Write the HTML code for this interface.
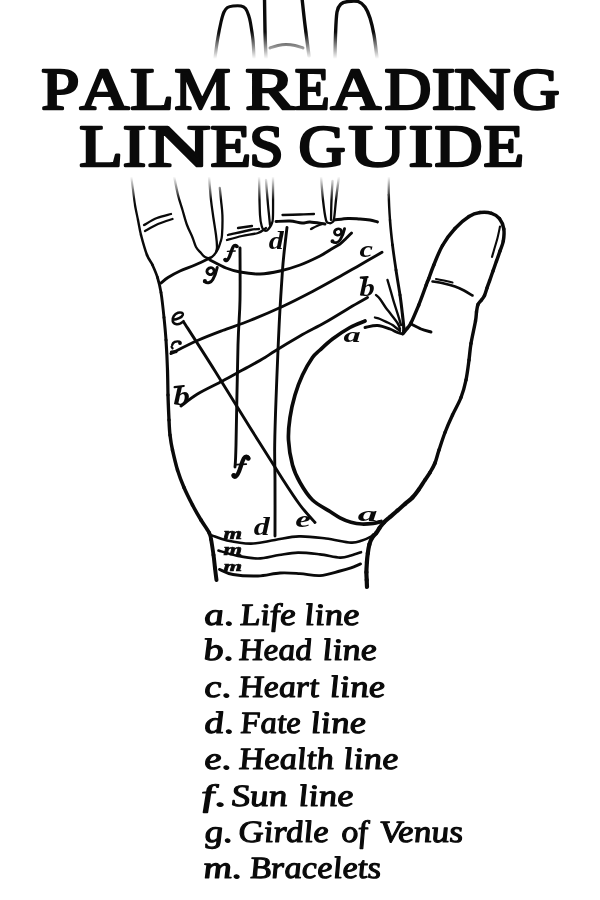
<!DOCTYPE html>
<html><head><meta charset="utf-8"><title>Palm Reading Lines Guide</title>
<style>
html,body{margin:0;padding:0;background:#fff;}
body{width:600px;height:900px;overflow:hidden;font-family:"Liberation Serif",serif;}
svg{display:block;filter:grayscale(1);}
</style></head>
<body>
<svg width="600" height="900" viewBox="0 0 600 900">
<defs>
<linearGradient id="fade" x1="0" y1="0" x2="0" y2="1" gradientUnits="objectBoundingBox">
<stop offset="0" stop-color="#fff" stop-opacity="0"/>
<stop offset="0.16" stop-color="#fff" stop-opacity="1"/>
<stop offset="0.86" stop-color="#fff" stop-opacity="1"/>
<stop offset="1" stop-color="#fff" stop-opacity="0"/>
</linearGradient>
</defs>
<rect width="600" height="900" fill="#fff"/>
<g fill="none" stroke="#0a0a0a" stroke-linecap="round" stroke-linejoin="round">
<path d="M215.0,58.0 C215.4,55.0 216.5,46.0 217.5,40.0 C218.5,34.0 219.9,26.7 221.0,22.0 C222.1,17.3 222.9,14.4 224.0,12.0 C225.1,9.6 226.0,8.5 227.5,7.5 C229.0,6.5 230.8,6.2 233.0,6.0 C235.2,5.8 238.9,5.6 241.0,6.0 C243.1,6.4 244.2,7.0 245.5,8.5 C246.8,10.0 247.7,12.6 248.5,15.0 C249.3,17.4 249.8,18.8 250.5,23.0 C251.2,27.2 252.4,34.2 253.0,40.0 C253.6,45.8 253.8,55.0 254.0,58.0" stroke-width="3.1999999999999997"/>
<path d="M264.5,-2.0 C264.6,3.3 264.8,20.0 265.0,30.0 C265.2,40.0 265.8,53.3 266.0,58.0" stroke-width="3.4"/>
<path d="M302.0,-2.0 C302.5,2.5 303.8,15.3 305.0,25.0 C306.2,34.7 308.3,50.8 309.0,56.0" stroke-width="3.4"/>
<path d="M270.0,48.0 C271.3,47.6 275.3,46.1 278.0,45.5 C280.7,44.9 283.2,44.5 286.0,44.5 C288.8,44.5 292.2,44.9 295.0,45.5 C297.8,46.1 301.7,47.6 303.0,48.0" stroke-width="2.9"/>
<path d="M335.0,58.0 C335.1,54.2 335.2,42.7 335.5,35.0 C335.8,27.3 336.1,17.2 337.0,12.0 C337.9,6.8 339.2,5.8 341.0,4.0 C342.8,2.2 345.2,1.9 348.0,1.5 C350.8,1.1 355.2,0.6 358.0,1.5 C360.8,2.4 363.0,4.2 365.0,7.0 C367.0,9.8 368.5,13.3 370.0,18.0 C371.5,22.7 372.8,28.3 374.0,35.0 C375.2,41.7 376.5,54.2 377.0,58.0" stroke-width="3.4"/>
<path d="M174.0,176.0 C174.7,179.2 176.6,189.3 178.0,195.0 C179.4,200.7 181.0,205.0 182.5,210.0 C184.0,215.0 185.3,220.4 187.0,225.0 C188.7,229.6 191.0,233.8 192.5,237.5 C194.0,241.2 194.6,244.4 196.0,247.0 C197.4,249.6 199.5,251.3 201.0,253.0 C202.5,254.7 203.5,256.2 205.0,257.0 C206.5,257.8 208.5,258.3 210.0,258.0 C211.5,257.7 212.7,256.5 214.0,255.0 C215.3,253.5 216.9,251.2 218.0,249.0 C219.1,246.8 219.8,244.3 220.5,242.0 C221.2,239.7 221.7,239.5 222.0,235.0 C222.3,230.5 222.6,220.8 222.4,215.0 C222.2,209.2 221.4,204.5 221.0,200.0 C220.6,195.5 220.0,190.0 219.8,188.0" stroke-width="2.3"/>
<path d="M209.0,176.0 C209.3,180.0 210.3,193.5 211.0,200.0 C211.7,206.5 212.2,209.2 213.0,215.0 C213.8,220.8 215.3,229.7 216.0,235.0 C216.7,240.3 217.0,244.2 217.0,247.0 C217.0,249.8 216.2,251.2 216.0,252.0" stroke-width="2.3"/>
<path d="M144.0,225.0 C146.2,223.8 152.5,219.8 157.0,218.0 C161.5,216.2 168.7,214.7 171.0,214.0" stroke-width="2.3"/>
<path d="M145.0,231.0 C147.2,229.8 153.4,226.0 158.0,224.0 C162.6,222.0 170.1,219.8 172.5,219.0" stroke-width="2.3"/>
<path d="M210.0,258.0 C207.5,259.2 200.0,262.8 195.0,265.0 C190.0,267.2 184.5,268.9 180.0,271.0 C175.5,273.1 171.2,275.5 168.0,277.5 C164.8,279.5 162.2,282.1 161.0,283.0" stroke-width="2.9"/>
<path d="M210.0,260.0 C212.7,261.3 221.0,266.0 226.0,268.0 C231.0,270.0 234.3,271.0 240.0,272.0 C245.7,273.0 253.3,274.2 260.0,274.0 C266.7,273.8 273.3,272.5 280.0,271.0 C286.7,269.5 293.3,267.5 300.0,265.0 C306.7,262.5 315.0,258.5 320.0,256.0 C325.0,253.5 326.7,252.0 330.0,250.0 C333.3,248.0 337.3,245.9 340.0,244.0 C342.7,242.1 344.1,240.3 346.0,238.5 C347.9,236.7 350.6,233.9 351.5,233.0" stroke-width="2.9"/>
<path d="M238.0,228.0 L252.0,226.0" stroke-width="2.3"/>
<path d="M228.0,235.0 C231.7,234.2 244.8,231.0 250.0,230.0 C255.2,229.0 257.5,229.2 259.0,229.0" stroke-width="2.3"/>
<path d="M227.0,240.0 C229.5,239.3 236.8,237.2 242.0,236.0 C247.2,234.8 254.0,234.3 258.0,233.0 C262.0,231.7 264.7,228.8 266.0,228.0" stroke-width="2.3"/>
<path d="M259.0,176.0 C259.2,182.5 259.5,206.5 260.0,215.0 C260.5,223.5 261.3,224.5 262.0,227.0 C262.7,229.5 263.2,229.4 264.0,230.0 C264.8,230.6 266.0,231.0 267.0,230.5 C268.0,230.0 269.2,228.2 270.0,227.0 C270.8,225.8 271.5,225.0 272.0,223.0 C272.5,221.0 272.8,222.8 273.0,215.0 C273.2,207.2 273.0,182.5 273.0,176.0" stroke-width="2.3"/>
<path d="M266.0,180.0 C266.3,184.2 267.5,199.2 268.0,205.0 C268.5,210.8 268.7,211.7 269.0,215.0 C269.3,218.3 269.8,223.3 270.0,225.0" stroke-width="2.3"/>
<path d="M276.0,221.5 C278.3,221.4 285.7,220.8 290.0,221.0 C294.3,221.2 298.7,222.8 302.0,223.0 C305.3,223.2 306.2,221.8 310.0,222.0 C313.8,222.2 322.5,223.7 325.0,224.0" stroke-width="2.9"/>
<path d="M282.5,215.0 C285.4,214.9 294.8,214.7 300.0,214.5 C305.2,214.3 311.7,214.1 314.0,214.0" stroke-width="2.3"/>
<path d="M311.0,229.0 C312.0,228.5 315.1,226.8 317.0,226.0 C318.9,225.2 321.6,224.3 322.5,224.0" stroke-width="2.3"/>
<path d="M321.0,176.0 C321.3,180.0 322.2,192.7 323.0,200.0 C323.8,207.3 325.0,216.2 326.0,220.0 C327.0,223.8 328.0,222.6 329.0,223.0 C330.0,223.4 331.2,223.2 332.0,222.5 C332.8,221.8 333.3,222.8 334.0,219.0 C334.7,215.2 335.2,207.2 336.0,200.0 C336.8,192.8 338.5,180.0 339.0,176.0" stroke-width="2.3"/>
<path d="M332.5,181.0 C332.3,184.2 331.8,193.5 331.5,200.0 C331.2,206.5 331.1,216.7 331.0,220.0" stroke-width="2.3"/>
<path d="M334.0,220.0 C336.3,219.8 343.7,218.7 348.0,218.5 C352.3,218.3 356.3,218.8 360.0,219.0 C363.7,219.2 367.1,219.5 370.0,220.0 C372.9,220.5 376.2,221.7 377.5,222.0" stroke-width="2.9"/>
<path d="M500.0,226.5 C499.6,228.4 498.5,234.1 497.5,238.0 C496.5,241.9 494.9,246.8 494.0,250.0 C493.1,253.2 492.3,255.8 492.0,257.0" stroke-width="2.0999999999999996"/>
<path d="M432.5,281.5 C434.4,281.8 440.2,282.7 444.0,283.5 C447.8,284.3 451.7,285.3 455.0,286.5 C458.3,287.7 461.1,289.0 464.0,290.5 C466.9,292.0 471.1,294.7 472.5,295.5" stroke-width="2.6"/>
<path d="M436.0,279.0 C437.3,279.2 441.2,279.9 444.0,280.5 C446.8,281.1 451.1,282.2 452.5,282.5" stroke-width="2.0999999999999996"/>
<path d="M411.0,324.0 C412.7,324.8 417.7,327.7 421.0,329.0 C424.3,330.3 429.3,331.5 431.0,332.0" stroke-width="2.9"/>
<path d="M387.5,280.0 C388.1,282.0 389.9,288.2 391.0,292.0 C392.1,295.8 392.8,298.7 394.0,302.5 C395.2,306.3 396.8,311.2 398.0,315.0 C399.2,318.8 400.5,323.3 401.0,325.0" stroke-width="2.4"/>
<path d="M376.0,295.0 C376.7,295.7 378.3,296.8 380.0,299.0 C381.7,301.2 384.3,305.7 386.0,308.0 C387.7,310.3 388.1,310.5 390.0,313.0 C391.9,315.5 395.8,320.3 397.5,323.0 C399.2,325.7 399.6,328.0 400.0,329.0" stroke-width="2.4"/>
<path d="M375.0,317.5 C375.8,317.8 377.9,318.2 380.0,319.0 C382.1,319.8 385.4,321.5 387.5,322.5 C389.6,323.5 390.4,323.6 392.5,325.0 C394.6,326.4 398.8,330.0 400.0,331.0" stroke-width="2.4"/>
<path d="M365.0,327.5 C367.1,327.2 373.3,325.2 377.5,325.5 C381.7,325.8 386.7,327.8 390.0,329.0 C393.3,330.2 395.4,331.7 397.5,332.5 C399.6,333.3 401.7,333.8 402.5,334.0" stroke-width="2.9"/>
<path d="M382.0,252.3 C378.3,254.4 367.4,260.8 360.0,265.0 C352.6,269.2 345.4,273.4 337.5,277.8 C329.6,282.2 321.7,286.7 312.5,291.5 C303.3,296.3 292.9,301.7 282.5,306.5 C272.1,311.3 260.0,316.5 250.0,320.5 C240.0,324.5 231.2,327.2 222.5,330.5 C213.8,333.8 206.1,336.7 197.5,340.5 C188.9,344.3 175.4,351.3 171.0,353.5" stroke-width="2.9"/>
<path d="M367.5,297.5 C364.6,299.2 357.1,303.3 350.0,307.5 C342.9,311.7 333.3,317.8 325.0,322.5 C316.7,327.2 308.3,331.2 300.0,336.0 C291.7,340.8 280.8,347.4 275.0,351.0 C269.2,354.6 269.2,355.0 265.0,357.5 C260.8,360.0 253.8,363.9 250.0,366.0 C246.2,368.1 247.1,367.5 242.5,370.0 C237.9,372.5 230.0,377.0 222.5,381.0 C215.0,385.0 204.4,389.8 197.5,394.0 C190.6,398.2 183.8,404.0 181.0,406.0" stroke-width="2.9"/>
<path d="M365.0,321.0 C362.5,322.1 355.4,324.5 350.0,327.5 C344.6,330.5 337.5,335.2 332.5,339.0 C327.5,342.8 323.3,346.9 320.0,350.0 C316.7,353.1 315.4,353.3 312.5,357.5 C309.6,361.7 305.4,368.8 302.5,375.0 C299.6,381.2 297.1,387.9 295.0,395.0 C292.9,402.1 291.1,410.0 290.0,417.5 C288.9,425.0 288.1,432.1 288.5,440.0 C288.9,447.9 290.6,457.9 292.5,465.0 C294.4,472.1 296.7,476.7 300.0,482.5 C303.3,488.3 307.5,495.2 312.5,500.0 C317.5,504.8 325.4,508.5 330.0,511.5 C334.6,514.5 336.5,516.0 340.0,517.8 C343.5,519.6 347.3,521.2 351.0,522.2 C354.7,523.2 358.3,523.8 362.0,524.0 C365.7,524.2 370.1,523.7 373.3,523.3 C376.5,522.9 379.7,521.8 381.0,521.5" stroke-width="3.6999999999999997"/>
<path d="M287.0,227.4 C286.6,231.2 285.1,243.4 284.3,250.5 C283.6,257.6 283.2,260.2 282.5,270.0 C281.8,279.8 280.8,295.7 280.0,309.0 C279.2,322.3 278.7,334.8 278.0,350.0 C277.3,365.2 276.6,384.2 276.0,400.0 C275.4,415.8 274.9,431.7 274.7,445.0 C274.5,458.3 274.9,464.8 275.0,480.0 C275.1,495.2 275.0,526.7 275.0,536.0" stroke-width="2.9"/>
<path d="M240.0,248.0 C240.0,256.7 240.3,283.8 240.0,300.0 C239.7,316.2 238.7,320.8 238.0,345.0 C237.3,369.2 236.5,424.7 236.0,445.0 C235.5,465.3 235.2,463.3 235.0,467.0" stroke-width="2.9"/>
<path d="M184.0,322.5 C189.2,330.6 204.0,353.5 215.0,371.0 C226.0,388.5 238.8,409.5 250.0,427.5 C261.2,445.5 274.2,466.1 282.5,479.0 C290.8,491.9 294.6,497.8 300.0,505.0 C305.4,512.2 312.5,519.6 315.0,522.5" stroke-width="2.9"/>
<path d="M212.0,535.5 C214.5,536.3 220.5,539.1 227.0,540.5 C233.5,541.9 243.0,543.7 251.0,543.6 C259.0,543.5 267.0,541.2 275.0,540.0 C283.0,538.8 290.5,536.6 299.0,536.4 C307.5,536.1 317.3,537.5 326.0,538.5 C334.7,539.5 345.0,542.3 351.0,542.6 C357.0,542.9 358.8,541.4 362.0,540.5 C365.2,539.6 368.1,538.2 370.0,537.2 C371.9,536.2 372.8,534.9 373.3,534.4" stroke-width="2.6"/>
<path d="M218.5,550.5 C221.4,551.3 229.4,554.2 236.0,555.5 C242.6,556.8 250.8,558.6 258.0,558.5 C265.2,558.4 272.3,556.0 279.0,555.0 C285.7,554.0 291.2,552.7 298.0,552.6 C304.8,552.5 313.0,553.6 320.0,554.4 C327.0,555.2 334.8,557.4 340.0,557.6 C345.2,557.8 347.5,556.4 351.0,555.5 C354.5,554.6 359.3,552.8 361.0,552.2" stroke-width="2.6"/>
<path d="M219.5,569.4 C221.8,570.2 226.6,573.4 233.0,574.5 C239.4,575.6 250.2,576.2 258.0,576.0 C265.8,575.8 273.0,573.4 280.0,573.0 C287.0,572.6 293.3,573.2 300.0,573.6 C306.7,574.0 313.3,576.0 320.0,575.6 C326.7,575.2 334.8,572.3 340.0,571.0 C345.2,569.7 347.6,569.0 351.0,567.8 C354.4,566.6 358.9,564.5 360.5,563.9" stroke-width="2.9"/>
<path d="M131.0,174.0 C131.3,176.7 132.3,184.8 133.0,190.0" stroke-width="2.06"/>
<path d="M133.0,190.0 C133.7,195.2 134.2,200.0 135.0,205.0" stroke-width="2.16"/>
<path d="M135.0,205.0 C135.8,210.0 137.0,215.0 138.0,220.0" stroke-width="2.27"/>
<path d="M138.0,220.0 C139.0,225.0 139.5,229.2 141.0,235.0" stroke-width="2.37"/>
<path d="M141.0,235.0 C142.5,240.8 145.1,250.0 147.0,255.0" stroke-width="2.50"/>
<path d="M147.0,255.0 C148.9,260.0 150.8,261.2 152.5,265.0" stroke-width="2.60"/>
<path d="M152.5,265.0 C154.2,268.8 156.1,272.9 157.5,277.5" stroke-width="2.68"/>
<path d="M157.5,277.5 C158.9,282.1 159.9,285.8 161.0,292.5" stroke-width="2.77"/>
<path d="M161.0,292.5 C162.1,299.2 163.2,309.6 164.0,317.5" stroke-width="2.90"/>
<path d="M164.0,317.5 C164.8,325.4 165.4,331.2 166.0,340.0" stroke-width="3.04"/>
<path d="M166.0,340.0 C166.6,348.8 167.2,360.8 167.5,370.0" stroke-width="3.14"/>
<path d="M167.5,370.0 C167.8,379.2 167.8,386.7 168.0,395.0" stroke-width="3.25"/>
<path d="M168.0,395.0 C168.2,403.3 168.7,413.3 169.0,420.0" stroke-width="3.35"/>
<path d="M169.0,420.0 C169.3,426.7 169.4,430.0 170.0,435.0" stroke-width="3.42"/>
<path d="M170.0,435.0 C170.6,440.0 171.2,444.2 172.5,450.0" stroke-width="3.44"/>
<path d="M172.5,450.0 C173.8,455.8 175.6,463.8 177.5,470.0" stroke-width="3.48"/>
<path d="M177.5,470.0 C179.4,476.2 181.5,481.7 184.0,487.5" stroke-width="3.52"/>
<path d="M184.0,487.5 C186.5,493.3 189.7,499.6 192.5,505.0" stroke-width="3.55"/>
<path d="M192.5,505.0 C195.3,510.4 198.2,515.4 201.0,520.0" stroke-width="3.58"/>
<path d="M201.0,520.0 C203.8,524.6 207.3,529.3 209.0,532.5" stroke-width="3.66"/>
<path d="M209.0,532.5 C210.7,535.7 210.2,535.2 211.0,539.0" stroke-width="3.76"/>
<path d="M211.0,539.0 C211.8,542.8 212.8,550.2 213.5,555.0" stroke-width="3.87"/>
<path d="M213.5,555.0 C214.2,559.8 214.5,563.8 215.0,568.0" stroke-width="4.00"/>
<path d="M215.0,568.0 C215.5,572.2 216.2,578.0 216.5,580.0" stroke-width="4.00"/>
<path d="M389.0,174.0 C389.0,177.5 388.6,187.3 388.8,195.0" stroke-width="2.27"/>
<path d="M388.8,195.0 C388.9,202.7 389.4,211.7 390.0,220.0" stroke-width="2.43"/>
<path d="M390.0,220.0 C390.6,228.3 391.5,236.7 392.5,245.0" stroke-width="2.61"/>
<path d="M392.5,245.0 C393.5,253.3 394.8,261.7 396.0,270.0" stroke-width="2.78"/>
<path d="M396.0,270.0 C397.2,278.3 398.9,287.5 400.0,295.0" stroke-width="2.93"/>
<path d="M400.0,295.0 C401.1,302.5 401.9,309.6 402.5,315.0" stroke-width="3.06"/>
<path d="M402.5,315.0 C403.1,320.4 403.6,324.6 403.8,327.5" stroke-width="3.15"/>
<path d="M403.8,327.5 C403.9,330.4 403.5,331.7 403.5,332.5" stroke-width="3.20"/>
<path d="M403.0,333.5 C403.8,332.6 406.1,329.8 407.5,328.0" stroke-width="3.45"/>
<path d="M407.5,328.0 C408.9,326.2 409.4,326.3 411.2,322.5" stroke-width="3.45"/>
<path d="M411.2,322.5 C413.1,318.7 416.2,311.2 418.8,305.0" stroke-width="3.45"/>
<path d="M418.8,305.0 C421.2,298.8 424.8,288.9 426.2,285.0" stroke-width="3.46"/>
<path d="M426.2,285.0 C427.7,281.1 427.1,282.6 427.5,281.5" stroke-width="3.47"/>
<path d="M427.5,281.5 C427.9,280.4 427.7,281.2 428.8,278.5" stroke-width="3.47"/>
<path d="M428.8,278.5 C429.8,275.8 431.5,270.5 433.8,265.0" stroke-width="3.47"/>
<path d="M433.8,265.0 C436.0,259.5 439.0,251.6 442.5,245.5" stroke-width="3.48"/>
<path d="M442.5,245.5 C446.0,239.4 450.6,233.3 455.0,228.5" stroke-width="3.49"/>
<path d="M455.0,228.5 C459.4,223.7 464.8,219.2 469.0,216.5" stroke-width="3.49"/>
<path d="M469.0,216.5 C473.2,213.8 476.2,213.1 480.0,212.6" stroke-width="3.49"/>
<path d="M480.0,212.6 C483.8,212.1 488.2,212.3 491.5,213.3" stroke-width="3.49"/>
<path d="M491.5,213.3 C494.8,214.3 497.4,216.0 499.5,218.6" stroke-width="3.49"/>
<path d="M499.5,218.6 C501.6,221.2 503.2,225.3 503.8,229.0" stroke-width="3.49"/>
<path d="M503.8,229.0 C504.4,232.7 503.9,237.3 503.3,241.0" stroke-width="3.49"/>
<path d="M503.3,241.0 C502.7,244.7 501.1,247.7 500.0,251.0" stroke-width="3.48"/>
<path d="M500.0,251.0 C498.9,254.3 497.7,257.7 496.5,261.0" stroke-width="3.48"/>
<path d="M496.5,261.0 C495.3,264.3 494.2,267.7 493.0,271.0" stroke-width="3.47"/>
<path d="M493.0,271.0 C491.8,274.3 490.5,278.2 489.5,281.0" stroke-width="3.47"/>
<path d="M489.5,281.0 C488.5,283.8 487.8,285.6 487.0,288.0" stroke-width="3.47"/>
<path d="M487.0,288.0 C486.2,290.4 485.4,293.5 484.5,295.5" stroke-width="3.46"/>
<path d="M484.5,295.5 C483.6,297.5 482.6,298.5 481.5,300.0" stroke-width="3.46"/>
<path d="M481.5,300.0 C480.4,301.5 478.8,302.5 478.0,304.5" stroke-width="3.46"/>
<path d="M478.0,304.5 C477.2,306.5 476.9,309.2 476.5,312.0" stroke-width="3.46"/>
<path d="M476.5,312.0 C476.1,314.8 476.4,315.8 475.5,321.0" stroke-width="3.45"/>
<path d="M475.5,321.0 C474.6,326.2 472.1,337.0 471.0,343.5" stroke-width="3.45"/>
<path d="M471.0,343.5 C469.9,350.0 469.8,353.9 469.0,360.0" stroke-width="3.44"/>
<path d="M469.0,360.0 C468.2,366.1 467.3,373.8 466.0,380.0" stroke-width="3.43"/>
<path d="M466.0,380.0 C464.7,386.2 463.2,391.7 461.0,397.5" stroke-width="3.42"/>
<path d="M461.0,397.5 C458.8,403.3 455.2,409.2 452.5,415.0" stroke-width="3.42"/>
<path d="M452.5,415.0 C449.8,420.8 447.2,426.7 445.0,432.5" stroke-width="3.41"/>
<path d="M445.0,432.5 C442.8,438.3 440.7,444.9 439.0,450.0" stroke-width="3.40"/>
<path d="M439.0,450.0 C437.3,455.1 436.5,459.2 435.0,463.0" stroke-width="3.50"/>
<path d="M435.0,463.0 C433.5,466.8 431.7,469.7 430.0,472.5" stroke-width="3.68"/>
<path d="M430.0,472.5 C428.3,475.3 426.9,477.2 425.0,480.0" stroke-width="3.82"/>
<path d="M425.0,480.0 C423.1,482.8 420.8,486.6 418.8,489.5" stroke-width="3.96"/>
<path d="M418.8,489.5 C416.7,492.4 414.8,495.1 412.5,497.5" stroke-width="4.10"/>
<path d="M412.5,497.5 C410.2,499.9 407.5,501.8 405.0,504.0" stroke-width="4.20"/>
<path d="M405.0,504.0 C402.5,506.2 400.0,508.3 397.5,510.5" stroke-width="4.20"/>
<path d="M397.5,510.5 C395.0,512.7 392.3,515.0 390.0,517.0" stroke-width="4.20"/>
<path d="M390.0,517.0 C387.7,519.0 385.5,520.7 383.8,522.5" stroke-width="4.20"/>
<path d="M383.8,522.5 C382.0,524.3 380.8,526.2 379.5,528.0" stroke-width="4.20"/>
<path d="M379.5,528.0 C378.2,529.8 377.5,531.4 376.2,533.0" stroke-width="4.20"/>
<path d="M376.2,533.0 C375.0,534.6 373.3,535.9 372.2,537.8" stroke-width="4.20"/>
<path d="M372.2,537.8 C371.1,539.7 370.1,541.8 369.4,544.4" stroke-width="4.20"/>
<path d="M369.4,544.4 C368.7,547.0 368.2,550.3 367.8,553.3" stroke-width="4.20"/>
<path d="M367.8,553.3 C367.4,556.3 367.1,559.1 366.9,562.2" stroke-width="4.20"/>
<path d="M366.9,562.2 C366.7,565.4 366.4,569.2 366.4,572.2" stroke-width="4.20"/>
<path d="M366.4,572.2 C366.4,575.2 366.6,577.5 366.7,580.0" stroke-width="4.20"/>
<path d="M366.7,580.0 C366.8,582.5 366.9,585.8 367.0,587.0" stroke-width="4.20"/>
</g>
<g font-family="Liberation Serif" font-weight="bold" font-style="italic" fill="#0a0a0a">
<text transform="translate(359.56,257.27) scale(1.256,0.996)" font-size="24.0">c</text>
<text transform="translate(268.65,248.76) scale(1.249,1.007)" font-size="24.0">d</text>
<text transform="translate(359.60,295.71) scale(1.276,1.093)" font-size="24.0">b</text>
<text transform="translate(343.60,342.29) scale(1.436,0.866)" font-size="24.0">a</text>
<text transform="translate(173.57,404.70) scale(1.368,1.123)" font-size="24.0">b</text>
<text transform="translate(253.63,534.76) scale(1.332,1.036)" font-size="24.0">d</text>
<text transform="translate(295.18,527.27) scale(1.464,0.996)" font-size="24.0">e</text>
<text transform="translate(357.84,520.78) scale(1.651,0.910)" font-size="24.0">a</text>
<text transform="translate(223.54,539.00) scale(0.996,0.707)" font-size="24.0" stroke="#0a0a0a" stroke-width="0.9">m</text>
<text transform="translate(223.54,555.00) scale(0.996,0.663)" font-size="24.0" stroke="#0a0a0a" stroke-width="0.9">m</text>
<text transform="translate(223.54,571.00) scale(0.996,0.619)" font-size="24.0" stroke="#0a0a0a" stroke-width="0.9">m</text>
</g>
<g transform="translate(202.3,266.3) scale(0.994,0.995)" fill="none" stroke="#0a0a0a" stroke-linecap="round" stroke-linejoin="round"><ellipse cx="8.3" cy="4.9" rx="3.7" ry="3.4" stroke-width="2.9" transform="rotate(-25 8.3 4.9)"/><path d="M15.0,1.2 C14.2,5 12.8,9.5 10.6,13.2 C8.8,16.2 5.5,17.6 2.6,15.6" stroke-width="3"/><circle cx="2.6" cy="14.9" r="1.3" fill="#0a0a0a" stroke-width="1.6"/></g>
<g transform="translate(330,227.5) scale(0.970,0.919)" fill="none" stroke="#0a0a0a" stroke-linecap="round" stroke-linejoin="round"><ellipse cx="8.3" cy="4.9" rx="3.7" ry="3.4" stroke-width="2.9" transform="rotate(-25 8.3 4.9)"/><path d="M15.0,1.2 C14.2,5 12.8,9.5 10.6,13.2 C8.8,16.2 5.5,17.6 2.6,15.6" stroke-width="3"/><circle cx="2.6" cy="14.9" r="1.3" fill="#0a0a0a" stroke-width="1.6"/></g>
<g transform="translate(231,455) scale(1.000,1.000)" fill="none" stroke="#0a0a0a" stroke-linecap="round" stroke-linejoin="round"><path d="M17.4,3.2 C16.6,1.2 14.2,1.0 12.9,3.2 C11.4,5.8 10.4,9.5 9.2,13.2 C7.9,17.4 6.6,20.6 4.6,21.6 C3.6,22.1 2.6,21.6 2.4,20.6" stroke-width="4.2"/><path d="M5.6,9.6 L15.2,9.1" stroke-width="1.9"/><circle cx="17.2" cy="3.4" r="1.5" fill="#0a0a0a" stroke-width="1.6"/><circle cx="2.9" cy="20.3" r="1.5" fill="#0a0a0a" stroke-width="1.6"/></g>
<g transform="translate(223,244) scale(0.800,0.766)" fill="none" stroke="#0a0a0a" stroke-linecap="round" stroke-linejoin="round"><path d="M17.4,3.2 C16.6,1.2 14.2,1.0 12.9,3.2 C11.4,5.8 10.4,9.5 9.2,13.2 C7.9,17.4 6.6,20.6 4.6,21.6 C3.6,22.1 2.6,21.6 2.4,20.6" stroke-width="4.2"/><path d="M5.6,9.6 L15.2,9.1" stroke-width="1.9"/><circle cx="17.2" cy="3.4" r="1.5" fill="#0a0a0a" stroke-width="1.6"/><circle cx="2.9" cy="20.3" r="1.5" fill="#0a0a0a" stroke-width="1.6"/></g>
<g fill="none" stroke="#0a0a0a" stroke-linecap="round" stroke-linejoin="round"><path d="M174.6,387.2 L183.8,386" stroke-width="2.2"/><path d="M360.8,277.6 L367.6,277" stroke-width="2.2"/><path d="M172.2,345 C172.8,342.2 176,340.8 179.6,341.6" stroke-width="2.4"/><circle cx="180" cy="343" r="1.2" fill="#0a0a0a" stroke-width="1.4"/><path d="M171.6,346.8 L172.6,348.4" stroke-width="2.2"/><path d="M171.5,352.2 L176,351.6" stroke-width="3.2"/><path d="M173,319.8 C177,319.5 182,317.5 182.8,314.8 C183.2,312.8 180.5,311.9 178,312.7 C174.5,313.9 172.1,317.5 172.7,321 C173.3,324.4 177.5,324.9 180.5,323.4 C181.8,322.7 182.8,322 183.6,321.2" stroke-width="2.5"/></g>
<rect x="0" y="32" width="600" height="168" fill="url(#fade)"/>
<g font-family="Liberation Serif" fill="#0a0a0a" stroke="#0a0a0a" stroke-width="2.6" stroke-linejoin="round">
<text transform="translate(41.33,109.0) scale(1.1449,1)" font-size="59.87">P</text>
<text transform="translate(79.63,109.0) scale(1.1466,1)" font-size="59.87">A</text>
<text transform="translate(130.24,109.0) scale(1.1968,1)" font-size="59.87">L</text>
<text transform="translate(174.48,109.0) scale(1.0532,1)" font-size="59.87">M</text>
<text transform="translate(245.16,109.0) scale(1.2435,1)" font-size="59.87">R</text>
<text transform="translate(294.65,109.0) scale(0.9541,1)" font-size="59.87">E</text>
<text transform="translate(330.62,109.0) scale(1.1703,1)" font-size="59.87">A</text>
<text transform="translate(384.43,109.0) scale(1.0841,1)" font-size="59.87">D</text>
<text transform="translate(431.76,109.0) scale(1.1743,1)" font-size="59.87">I</text>
<text transform="translate(454.05,109.0) scale(1.3056,1)" font-size="59.87">N</text>
<text transform="translate(512.62,109.0) scale(1.0898,1)" font-size="59.87">G</text>
<text transform="translate(79.24,166.29999999999998) scale(1.2030,1)" font-size="59.56">L</text>
<text transform="translate(122.76,166.29999999999998) scale(1.1804,1)" font-size="59.56">I</text>
<text transform="translate(147.79,166.29999999999998) scale(1.4625,1)" font-size="59.56">N</text>
<text transform="translate(210.38,166.29999999999998) scale(1.1167,1)" font-size="59.56">E</text>
<text transform="translate(249.17,166.29999999999998) scale(1.0374,1)" font-size="59.56">S</text>
<text transform="translate(298.62,166.29999999999998) scale(1.0953,1)" font-size="59.56">G</text>
<text transform="translate(348.62,166.29999999999998) scale(1.3428,1)" font-size="59.56">U</text>
<text transform="translate(408.62,166.29999999999998) scale(1.2445,1)" font-size="59.56">I</text>
<text transform="translate(434.39,166.29999999999998) scale(1.1153,1)" font-size="59.56">D</text>
<text transform="translate(483.38,166.29999999999998) scale(1.1167,1)" font-size="59.56">E</text>
</g>
<g font-family="Liberation Serif" font-style="italic" font-size="31" fill="#0a0a0a" stroke="#0a0a0a" stroke-width="1.1" stroke-linejoin="round">
<text transform="translate(205.00,624.75) skewX(6)" textLength="29.85" lengthAdjust="spacingAndGlyphs">a.</text>
<text transform="translate(240.90,624.75) skewX(6)" textLength="55.90" lengthAdjust="spacingAndGlyphs">Life</text>
<text transform="translate(305.10,624.75) skewX(6)" textLength="55.30" lengthAdjust="spacingAndGlyphs">line</text>
<text transform="translate(204.10,660.45) skewX(6)" textLength="30.75" lengthAdjust="spacingAndGlyphs">b.</text>
<text transform="translate(239.75,660.45) skewX(6)" textLength="73.30" lengthAdjust="spacingAndGlyphs">Head</text>
<text transform="translate(323.10,660.45) skewX(6)" textLength="54.70" lengthAdjust="spacingAndGlyphs">line</text>
<text transform="translate(205.00,696.75) skewX(6)" textLength="27.45" lengthAdjust="spacingAndGlyphs">c.</text>
<text transform="translate(239.75,696.75) skewX(6)" textLength="80.00" lengthAdjust="spacingAndGlyphs">Heart</text>
<text transform="translate(330.35,696.75) skewX(6)" textLength="55.45" lengthAdjust="spacingAndGlyphs">line</text>
<text transform="translate(205.00,732.95) skewX(6)" textLength="29.85" lengthAdjust="spacingAndGlyphs">d.</text>
<text transform="translate(241.15,732.95) skewX(6)" textLength="60.65" lengthAdjust="spacingAndGlyphs">Fate</text>
<text transform="translate(311.35,732.95) skewX(6)" textLength="55.45" lengthAdjust="spacingAndGlyphs">line</text>
<text transform="translate(205.00,769.45) skewX(6)" textLength="27.45" lengthAdjust="spacingAndGlyphs">e.</text>
<text transform="translate(239.75,769.45) skewX(6)" textLength="94.90" lengthAdjust="spacingAndGlyphs">Health</text>
<text transform="translate(344.10,769.45) skewX(6)" textLength="55.10" lengthAdjust="spacingAndGlyphs">line</text>
<text transform="translate(202.35,805.75) skewX(6)" textLength="25.00" lengthAdjust="spacingAndGlyphs">f.</text>
<text transform="translate(232.15,805.75) skewX(6)" textLength="55.90" lengthAdjust="spacingAndGlyphs">Sun</text>
<text transform="translate(299.10,805.75) skewX(6)" textLength="55.30" lengthAdjust="spacingAndGlyphs">line</text>
<text transform="translate(205.15,841.95) skewX(6)" textLength="28.30" lengthAdjust="spacingAndGlyphs">g.</text>
<text transform="translate(239.10,841.95) skewX(6)" textLength="90.55" lengthAdjust="spacingAndGlyphs">Girdle</text>
<text transform="translate(342.15,841.95) skewX(6)" textLength="26.05" lengthAdjust="spacingAndGlyphs">of</text>
<text transform="translate(380.90,841.95) skewX(6)" textLength="82.90" lengthAdjust="spacingAndGlyphs">Venus</text>
<text transform="translate(204.05,878.25) skewX(6)" textLength="38.80" lengthAdjust="spacingAndGlyphs">m.</text>
<text transform="translate(250.40,878.25) skewX(6)" textLength="131.45" lengthAdjust="spacingAndGlyphs">Bracelets</text>
</g>
</svg>
</body></html>
